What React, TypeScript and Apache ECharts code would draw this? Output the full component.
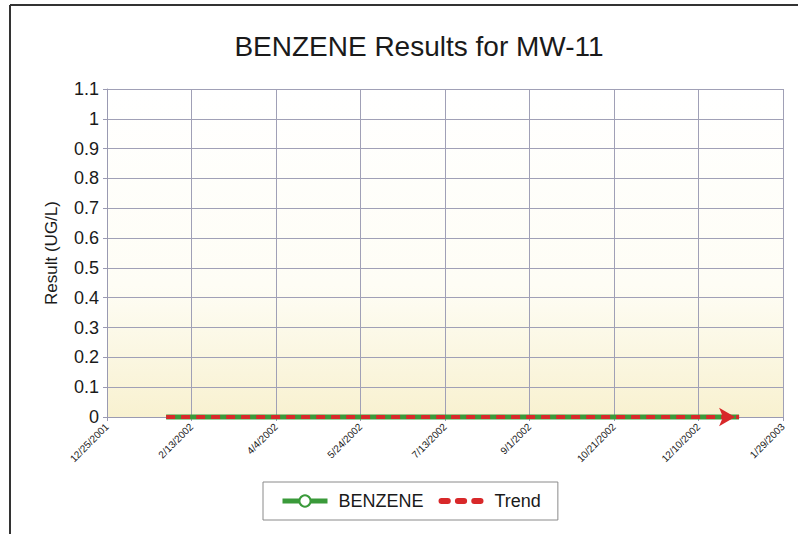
import React, { useEffect, useRef } from "react";
import * as echarts from "echarts";

const TITLE = "BENZENE Results for MW-11";
const Y_NAME = "Result (UG/L)";
const START_DATE = "2001-12-25";
const X_MAX_DAYS = 400;
const X_STEP_DAYS = 50;
const Y_MAX = 1.1;
const Y_STEP = 0.1;

const sampleDates = ["2002-01-29", "2002-03-15", "2002-05-14", "2002-08-08", "2002-10-24", "2003-01-03"];
const benzeneValues = [0, 0, 0, 0, 0, 0];
const trendDates = ["2002-01-29", "2003-01-03"];
const trendValues = [0, 0];

const DAY = 86400000;
const startMs = Date.parse(START_DATE + "T00:00:00Z");
const toDays = (s: string) => Math.round((Date.parse(s + "T00:00:00Z") - startMs) / DAY);
const fmtDay = (d: number) => {
  const dt = new Date(startMs + d * DAY);
  return `${dt.getUTCMonth() + 1}/${dt.getUTCDate()}/${dt.getUTCFullYear()}`;
};

const TREND_ICON = "path://M0,3 Q0,0 3,0 L9,0 Q12,0 12,3 Q12,6 9,6 L3,6 Q0,6 0,3 Z M16,3 Q16,0 19,0 L25,0 Q28,0 28,3 Q28,6 25,6 L19,6 Q16,6 16,3 Z M32,3 Q32,0 35,0 L41,0 Q44,0 44,3 Q44,6 41,6 L35,6 Q32,6 32,3 Z";

export default function App() {
  const ref = useRef<HTMLDivElement>(null);
  useEffect(() => {
    if (!ref.current) return;
    const chart = echarts.init(ref.current, undefined, { renderer: "svg" });
    const benzeneData = sampleDates.map((d, i) => [toDays(d), benzeneValues[i]]);
    const trendData = trendDates.map((d, i) => {
      const pt: any = { value: [toDays(d), trendValues[i]] };
      if (i === trendDates.length - 1) {
        pt.symbol = "arrow";
        pt.symbolSize = [14, 16];
        pt.symbolRotate = -90;
        pt.symbolOffset = [-4, 0];
      }
      return pt;
    });
    chart.setOption({
      animation: false,
      backgroundColor: "#ffffff",
      textStyle: { fontFamily: "Liberation Sans, Arial, sans-serif" },
      title: {
        text: TITLE,
        left: 414,
        top: 27,
        textAlign: "center",
        textStyle: { fontSize: 28, fontWeight: "normal", color: "#1a1a1a" },
      },
      grid: {
        left: 107,
        right: 15,
        top: 89,
        bottom: 117,
        show: true,
        borderWidth: 0,
        backgroundColor: new echarts.graphic.LinearGradient(0, 0, 0, 1, [
          { offset: 0, color: "#ffffff" },
          { offset: 0.6, color: "#fefdf5" },
          { offset: 1, color: "#f8f1d0" },
        ]),
      },
      legend: {
        left: 263,
        top: 482,
        padding: [10, 17, 10, 17],
        borderColor: "#8a8a8a",
        borderWidth: 1,
        itemWidth: 45,
        itemHeight: 14,
        itemGap: 15,
        textStyle: { fontSize: 18, color: "#1a1a1a", padding: [0, 0, 0, 6] },
        data: [
          {
            name: "BENZENE",
            lineStyle: { width: 5, color: "#3a9a3a" },
            itemStyle: { color: "#ffffff", borderColor: "#3a9a3a", borderWidth: 2 },
          },
          {
            name: "Trend",
            icon: TREND_ICON,
            itemStyle: { color: "#d8282a" },
          },
        ],
      },
      xAxis: {
        type: "value",
        min: 0,
        max: X_MAX_DAYS,
        interval: X_STEP_DAYS,
        axisLine: { show: true, lineStyle: { color: "#9a9ab2", width: 1 } },
        axisTick: { show: true, length: 4, lineStyle: { color: "#9a9ab2" } },
        splitLine: { show: true, lineStyle: { color: "#a0a0b6", width: 1 } },
        axisLabel: {
          rotate: 45,
          fontSize: 10,
          color: "#1a1a1a",
          margin: 8,
          formatter: (v: number) => fmtDay(v),
        },
      },
      yAxis: {
        type: "value",
        min: 0,
        max: Y_MAX,
        interval: Y_STEP,
        name: Y_NAME,
        nameLocation: "middle",
        nameGap: 47,
        nameRotate: 90,
        nameTextStyle: { fontSize: 17, color: "#1a1a1a" },
        axisLine: { show: true, lineStyle: { color: "#9a9ab2", width: 1 } },
        axisTick: { show: true, length: 4, lineStyle: { color: "#9a9ab2" } },
        splitLine: { show: true, lineStyle: { color: "#a0a0b6", width: 1 } },
        axisLabel: {
          fontSize: 18,
          color: "#1a1a1a",
          margin: 8,
          formatter: (v: number) => String(Math.round(v * 10) / 10),
        },
      },
      series: [
        {
          name: "BENZENE",
          type: "line",
          data: benzeneData,
          symbol: "circle",
          symbolSize: 6,
          showSymbol: false,
          clip: false,
          itemStyle: { color: "#ffffff", borderColor: "#3a9a3a", borderWidth: 2 },
          lineStyle: { color: "#3a9a3a", width: 5 },
          z: 2,
        },
        {
          name: "Trend",
          type: "line",
          data: trendData,
          symbol: "none",
          clip: false,
          itemStyle: { color: "#d8282a" },
          lineStyle: { color: "#d8282a", width: 4, type: [9, 6] },
          z: 3,
        },
      ],
      graphic: [
        {
          type: "line",
          shape: { x1: 10, y1: 5, x2: 798, y2: 5 },
          style: { stroke: "#333", lineWidth: 2 },
        },
        {
          type: "line",
          shape: { x1: 10, y1: 5, x2: 10, y2: 534 },
          style: { stroke: "#333", lineWidth: 2 },
        },
      ],
    });
    return () => chart.dispose();
  }, []);
  return (
    <div
      ref={ref}
      style={{ position: "fixed", left: 0, top: 0, width: 798, height: 534 }}
    />
  );
}
